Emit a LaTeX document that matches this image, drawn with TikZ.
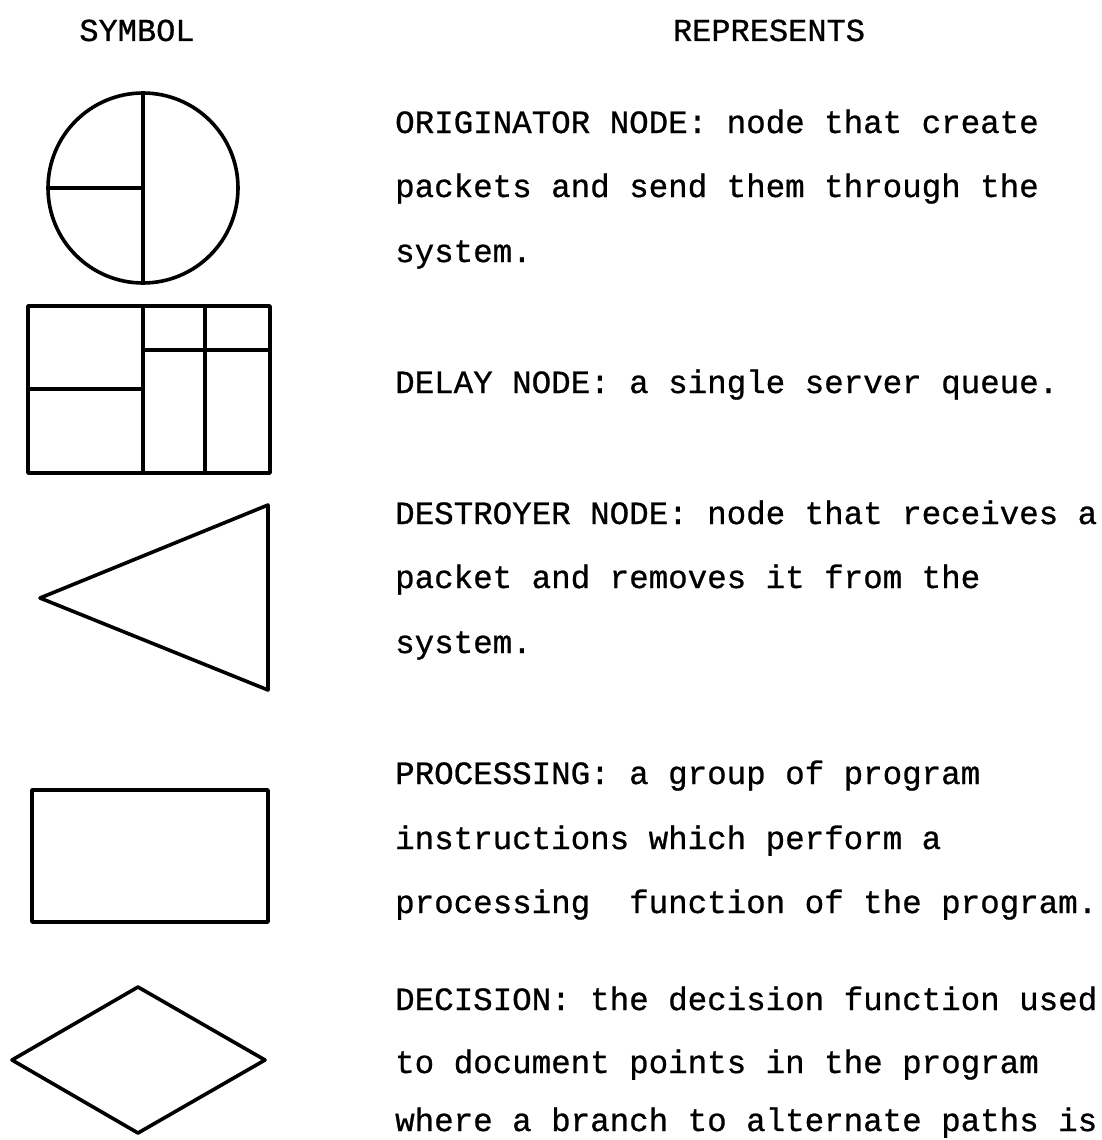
\documentclass[tikz,border=0pt]{standalone}
\usepackage{fontspec}
\newfontfamily\typewriter[FakeBold=0.8]{Liberation Mono}
\tikzset{
  symb/.style={line width=3.6pt, line join=round, line cap=round},
  heading/.style={anchor=base, inner sep=0pt, font=\typewriter\fontsize{32}{38}\selectfont},
  desc/.style={anchor=base west, inner sep=0pt, font=\typewriter\fontsize{32.5}{39}\selectfont}
}
\begin{document}
\begin{tikzpicture}[x=1pt,y=-1pt]
\useasboundingbox (0,0) rectangle (1101,1140);

\node[heading] (hsym) at (137,41) {SYMBOL};
\node[heading] (hrep) at (769,41) {REPRESENTS};

% originator
\draw[symb] (143,188) circle[radius=95pt];
\draw[symb] (143,93) -- (143,283);
\draw[symb] (48,188) -- (143,188);

% delay
\draw[symb] (28,306) rectangle (270,473);
\draw[symb] (143,306) -- (143,473);
\draw[symb] (205,306) -- (205,473);
\draw[symb] (143,350) -- (270,350);
\draw[symb] (28,389) -- (143,389);

% destroyer
\draw[symb] (268,505) -- (268,690) -- (40,598) -- cycle;

% processing
\draw[symb] (32,790) rectangle (268,922);

% decision
\draw[symb] (138,987) -- (265,1060) -- (138,1133) -- (12,1060) -- cycle;

\node[desc] (orig1) at (395,133) {ORIGINATOR NODE: node that create};
\node[desc] (orig2) at (395,197) {packets and send them through the};
\node[desc] (orig3) at (395,262) {system.};

\node[desc] (dly1) at (395,393) {DELAY NODE: a single server queue.};

\node[desc] (dst1) at (395,524) {DESTROYER NODE: node that receives a};
\node[desc] (dst2) at (395,588) {packet and removes it from the};
\node[desc] (dst3) at (395,653) {system.};

\node[desc] (prc1) at (395,784) {PROCESSING: a group of program};
\node[desc] (prc2) at (395,849) {instructions which perform a};
\node[desc] (prc3) at (395,913) {processing\ \ function of the program.};

\node[desc] (dec1) at (395,1010) {DECISION: the decision function used};
\node[desc] (dec2) at (395,1073) {to document points in the program};
\node[desc] (dec3) at (395,1131) {where a branch to alternate paths is};
\end{tikzpicture}
\end{document}
